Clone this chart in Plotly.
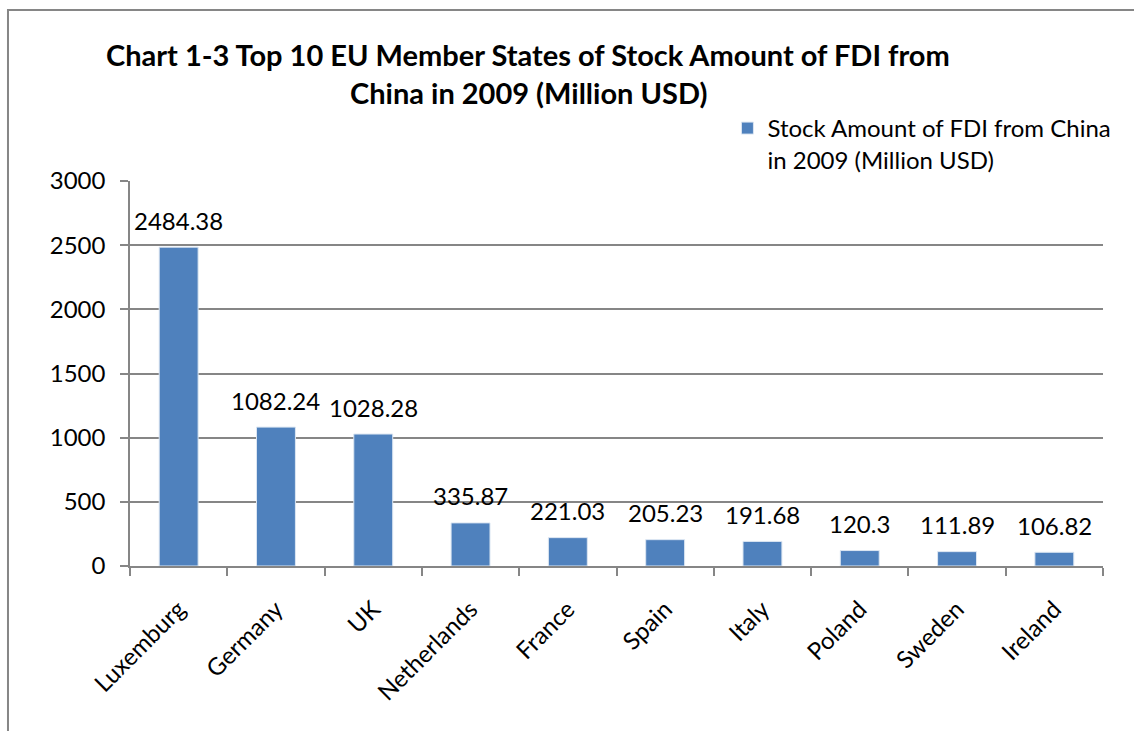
import plotly.graph_objects as go

countries = ["Luxemburg", "Germany", "UK", "Netherlands", "France", "Spain", "Italy", "Poland", "Sweden", "Ireland"]
values = [2484.38, 1082.24, 1028.28, 335.87, 221.03, 205.23, 191.68, 120.3, 111.89, 106.82]
labels = ["2484.38", "1082.24", "1028.28", "335.87", "221.03", "205.23", "191.68", "120.3", "111.89", "106.82"]
series_name = "Stock Amount of FDI from China<br>in 2009 (Million USD)"
title_line1 = "Chart 1-3 Top 10 EU Member States of Stock Amount of FDI from"
title_line2 = "China in 2009 (Million USD)"

FONT = "Lato"
GRID = "#868686"
H_PLOT = 385.0

fig = go.Figure()
fig.add_trace(go.Bar(
    x=countries, y=values, name=series_name,
    marker=dict(color="#4F81BD", line=dict(color="#DCE6F2", width=1)),
    showlegend=True,
))

for c, v, t in zip(countries, values, labels):
    fig.add_annotation(x=c, y=v, text=t, showarrow=False, yanchor="middle", yshift=27,
                       font=dict(family=FONT, size=24, color="#000000"))

fig.add_annotation(xref="paper", yref="paper", x=(528 - 130) / 973.0, y=(566 - 55) / H_PLOT,
                   text="<b>" + title_line1 + "</b>", showarrow=False, xanchor="center", yanchor="middle",
                   font=dict(family=FONT, size=29, color="#000000"))
fig.add_annotation(xref="paper", yref="paper", x=(528 - 130) / 973.0, y=(566 - 93) / H_PLOT,
                   text="<b>" + title_line2 + "</b>", showarrow=False, xanchor="center", yanchor="middle",
                   font=dict(family=FONT, size=29, color="#000000"))

fig.update_layout(
    width=1134, height=731,
    margin=dict(l=130, r=31, t=181, b=165),
    paper_bgcolor="white", plot_bgcolor="white",
    font=dict(family=FONT, size=24, color="#000000"),
    bargap=0.6,
    showlegend=True,
    legend=dict(x=0.614, y=(566 - 106) / H_PLOT, xanchor="left", yanchor="top", valign="top",
                bgcolor="rgba(0,0,0,0)", font=dict(family=FONT, size=24)),
)

fig.update_yaxes(range=[0, 3000], dtick=500, showgrid=True, gridcolor=GRID, gridwidth=1.5,
                 showline=True, linecolor=GRID, linewidth=1.5, ticks="outside", ticklen=8,
                 tickcolor=GRID, tickwidth=1.5, zeroline=False, ticklabelstandoff=10,
                 tickfont=dict(family=FONT, size=24, color="#000000"))
fig.update_xaxes(showline=True, linecolor=GRID, linewidth=1.5, ticks="outside", ticklen=8,
                 tickcolor=GRID, tickwidth=1.5, tickson="boundaries", tickangle=-45,
                 showgrid=False, ticklabelstandoff=18,
                 tickfont=dict(family=FONT, size=24, color="#000000"))

fig.add_shape(type="rect", xref="paper", yref="paper",
              x0=-0.1254, x1=1.05, y0=-0.48, y1=1.444,
              line=dict(color="#868686", width=2), fillcolor="rgba(0,0,0,0)", layer="below")

fig.write_html("out.html")
